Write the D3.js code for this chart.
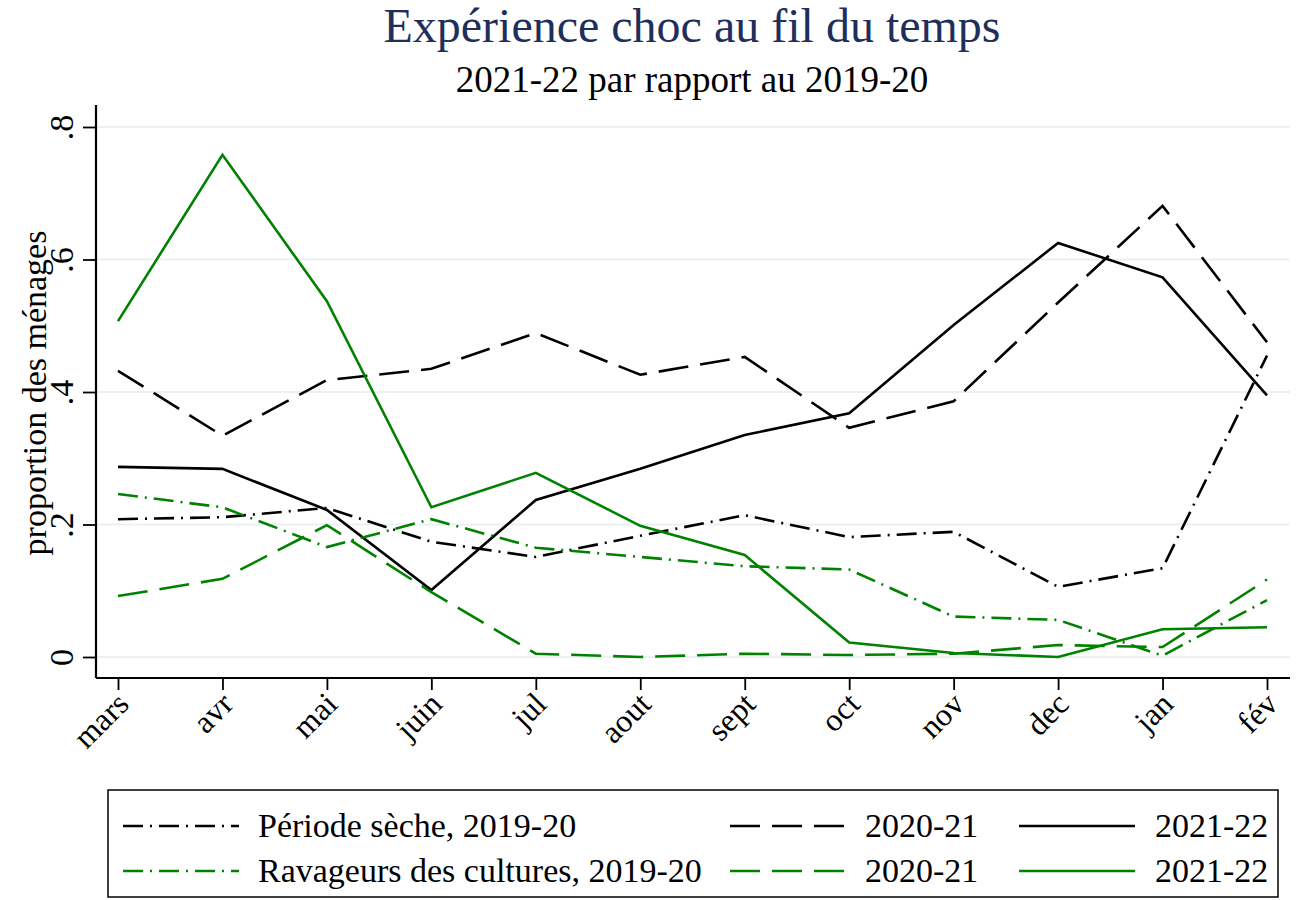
<!DOCTYPE html>
<html><head><meta charset="utf-8">
<script src="https://cdn.jsdelivr.net/npm/d3@7"></script>
<style>
body{margin:0;background:#fff;}
svg{display:block;font-family:"Liberation Serif","Times New Roman",serif;}
</style></head>
<body>
<script>
const months = ["mars","avr","mai","juin","jul","aout","sept","oct","nov","dec","jan","fév"];
const yTicks = [0, 0.2, 0.4, 0.6, 0.8];
const yTickLabels = ["0", ".2", ".4", ".6", ".8"];

const secheA = [0.208,0.211,0.225,0.174,0.151,0.183,0.214,0.181,0.189,0.106,0.134,0.455];
const secheB = [0.432,0.334,0.418,0.435,0.489,0.426,0.453,0.346,0.386,0.535,0.681,0.475];
const secheC = [0.287,0.284,0.222,0.101,0.237,0.284,0.335,0.368,0.501,0.625,0.573,0.395];
const ravA = [0.246,0.226,0.166,0.208,0.165,0.151,0.137,0.132,0.061,0.056,0.002,0.086];
const ravB = [0.092,0.118,0.199,0.098,0.005,0.000,0.005,0.003,0.005,0.018,0.015,0.117];
const ravC = [0.507,0.758,0.537,0.226,0.278,0.198,0.154,0.022,0.006,0.000,0.042,0.045];

const seriesNames = ["Période sèche, 2019-20","2020-21","2021-22","Ravageurs des cultures, 2019-20","2020-21","2021-22"];

(function(){
const W = 1299, H = 900;
const BLACK = "#000", GREEN = "#008200";
const DASHDOT = "20,7,2,7", DASHED = "30,12";
const series = [
  {v: secheA, c: BLACK, d: DASHDOT},
  {v: secheB, c: BLACK, d: DASHED},
  {v: secheC, c: BLACK, d: null},
  {v: ravA, c: GREEN, d: DASHDOT},
  {v: ravB, c: GREEN, d: DASHED},
  {v: ravC, c: GREEN, d: null}
];

const svg = d3.select("body").append("svg").attr("width", W).attr("height", H);
svg.append("rect").attr("width", W).attr("height", H).attr("fill", "#fff");

const x = d3.scalePoint().domain(months).range([118, 1267]);
const y = d3.scaleLinear().domain([0, 0.8]).range([657, 127]);
const pLeft = 96, pBottom = 678, pRight = 1290, pTop = 105;

svg.append("g").selectAll("line").data(yTicks).join("line")
  .attr("x1", pLeft).attr("x2", pRight)
  .attr("y1", d => y(d)).attr("y2", d => y(d))
  .attr("stroke", "#e9f1f3").attr("stroke-width", 2.2);

const line = d3.line().x((d, i) => x(months[i])).y(d => y(d));
series.forEach(s => {
  svg.append("path").datum(s.v).attr("d", line)
    .attr("fill", "none").attr("stroke", s.c).attr("stroke-width", 2.6)
    .attr("stroke-dasharray", s.d).attr("stroke-linejoin", "miter");
});

const yAxis = svg.append("g").attr("transform", `translate(${pLeft},0)`)
  .call(d3.axisLeft(y).tickValues(yTicks).tickSize(13).tickFormat((d, i) => yTickLabels[i]));
yAxis.select(".domain").attr("d", `M0,${pTop}V${pBottom}`).attr("stroke-width", 2.2);
yAxis.selectAll(".tick line").attr("stroke-width", 1.8);
yAxis.selectAll(".tick text")
  .attr("font-size", 34).attr("font-family", "Liberation Serif")
  .attr("x", null).attr("dy", null).attr("text-anchor", "middle")
  .attr("transform", "translate(-23,0) rotate(-90)");

const xAxis = svg.append("g").attr("transform", `translate(0,${pBottom})`)
  .call(d3.axisBottom(x).tickSize(12).tickPadding(0));
xAxis.select(".domain").attr("d", `M${pLeft},0H${pRight}`).attr("stroke-width", 2.2);
xAxis.selectAll(".tick line").attr("stroke-width", 1.8);
xAxis.selectAll(".tick text")
  .attr("font-size", 32).attr("font-family", "Liberation Serif")
  .attr("y", null).attr("dy", null).attr("text-anchor", "end")
  .attr("transform", "translate(12,28) rotate(-45)");

svg.append("text").attr("transform", "translate(46,393) rotate(-90)")
  .attr("text-anchor", "middle").attr("font-size", 34).text("proportion des ménages");

svg.append("text").attr("x", 692).attr("y", 42).attr("text-anchor", "middle")
  .attr("font-size", 48).attr("fill", "#1e2f5c").text("Expérience choc au fil du temps");
svg.append("text").attr("x", 692).attr("y", 92).attr("text-anchor", "middle")
  .attr("font-size", 37).attr("fill", "#000").text("2021-22 par rapport au 2019-20");

const lg = svg.append("g");
lg.append("rect").attr("x", 108).attr("y", 790).attr("width", 1170).attr("height", 107)
  .attr("fill", "#fff").attr("stroke", "#000").attr("stroke-width", 1.5);
const colLine = [123, 730, 1019];
const colText = [258, 865, 1155];
const rowY = [826, 871];
series.forEach((s, i) => {
  const col = i % 3, row = Math.floor(i / 3);
  lg.append("line").attr("x1", colLine[col]).attr("x2", colLine[col] + 116)
    .attr("y1", rowY[row]).attr("y2", rowY[row])
    .attr("stroke", s.c).attr("stroke-width", 2.6).attr("stroke-dasharray", s.d);
  lg.append("text").attr("x", colText[col]).attr("y", rowY[row] + 11)
    .attr("font-size", 34).text(seriesNames[i]);
});
})();
</script>
</body></html>
